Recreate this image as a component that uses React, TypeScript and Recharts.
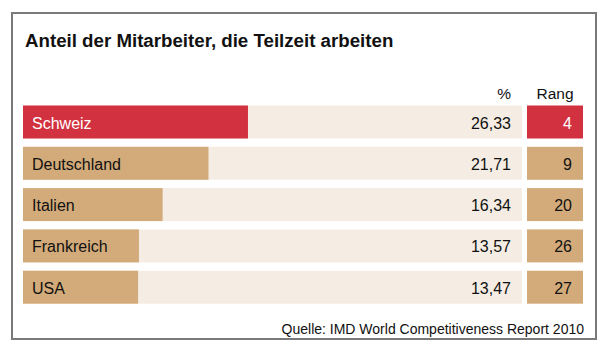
import React from "react";
import { BarChart, Bar, XAxis, YAxis } from "recharts";

const countries = ["Schweiz", "Deutschland", "Italien", "Frankreich", "USA"];
const shares = [26.33, 21.71, 16.34, 13.57, 13.47];
const ranks = [4, 9, 20, 26, 27];
const highlight = "Schweiz";

const RED = "#d23140";
const TAN = "#d3ab7a";
const BEIGE = "#f5ede3";
const FONT = "'Liberation Sans', Arial, Helvetica, sans-serif";

const data = countries.map((c, i) => ({ country: c, pct: shares[i], rank: ranks[i] }));

const fmt = (v: number) => v.toFixed(2).replace(".", ",");

function RowShape(props: any) {
  const { x, y, width, height, payload, background } = props;
  const bx = background ? background.x : 23;
  const bw = background ? background.width : 499;
  const fill = payload.country === highlight ? RED : TAN;
  const txt = payload.country === highlight ? "#fff" : "#111";
  const base = y + height / 2 + 6.5;
  const rx = bx + bw + 5;
  return (
    <g>
      <rect x={x} y={y} width={width} height={height} fill={fill} />
      <text x={x + 9} y={base} fontSize={16} fill={txt} fontFamily={FONT}>
        {payload.country}
      </text>
      <text x={bx + bw - 11} y={base} fontSize={16} fill="#111" textAnchor="end" fontFamily={FONT}>
        {fmt(payload.pct)}
      </text>
      <rect x={rx} y={y} width={56} height={height} fill={fill} />
      <text x={rx + 45} y={base} fontSize={16} fill={txt} textAnchor="end" fontFamily={FONT}>
        {payload.rank}
      </text>
    </g>
  );
}

export default function App() {
  return (
    <div style={{ position: "absolute", left: 0, top: 0, width: 609, height: 349, background: "#fff" }}>
      <style>{"body{margin:0}"}</style>
      <div
        style={{
          position: "absolute",
          left: 11,
          top: 12,
          width: 582,
          height: 324,
          border: "2px solid #7a7a7a",
        }}
      />
      <div style={{ position: "absolute", left: 0, top: 0 }}>
        <BarChart
          width={609}
          height={349}
          data={data}
          layout="vertical"
          margin={{ top: 101.5, right: 87, bottom: 41, left: 23 }}
        >
          <XAxis type="number" domain={[0, 58.4]} hide />
          <YAxis type="category" dataKey="country" hide />
          <Bar
            dataKey="pct"
            barSize={33}
            background={{ fill: BEIGE }}
            shape={RowShape}
            isAnimationActive={false}
          />
        </BarChart>
      </div>
      <svg width={609} height={349} style={{ position: "absolute", left: 0, top: 0, pointerEvents: "none" }}>
        <text x={25} y={47.3} fontSize={18.7} fontWeight="bold" fill="#111" fontFamily={FONT}>
          Anteil der Mitarbeiter, die Teilzeit arbeiten
        </text>
        <text x={511} y={99} fontSize={15.5} fill="#111" textAnchor="end" fontFamily={FONT}>
          %
        </text>
        <text x={555} y={99} fontSize={15.5} fill="#111" textAnchor="middle" fontFamily={FONT}>
          Rang
        </text>
        <text x={584} y={333.5} fontSize={14} fill="#111" textAnchor="end" fontFamily={FONT}>
          Quelle: IMD World Competitiveness Report 2010
        </text>
      </svg>
    </div>
  );
}
